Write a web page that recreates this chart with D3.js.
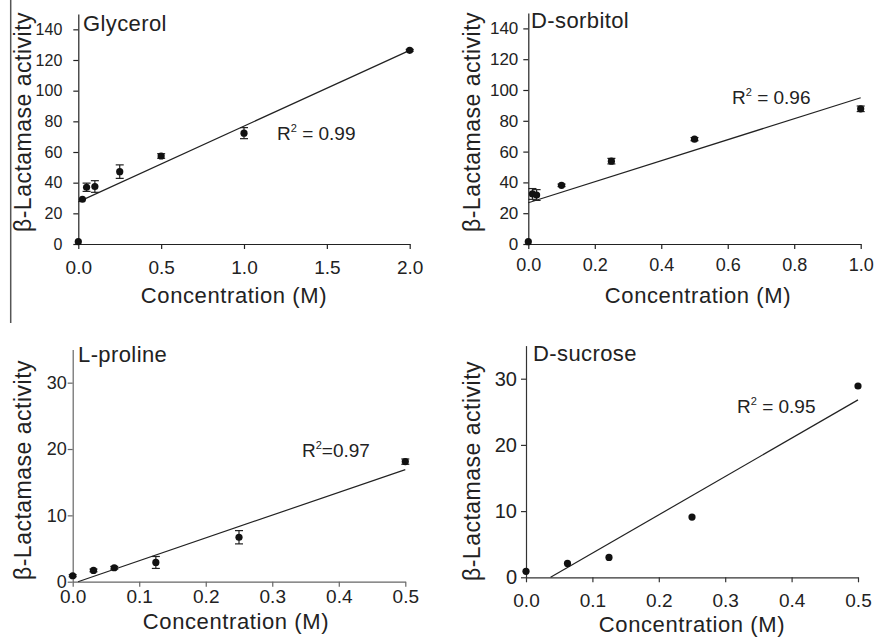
<!DOCTYPE html>
<html>
<head>
<meta charset="utf-8">
<script src="https://cdn.jsdelivr.net/npm/d3@7"></script>
<style>
  body { margin: 0; background: #fff; }
  svg text { font-family: Arial, 'Liberation Sans', sans-serif; fill: #222; }
</style>
</head>
<body>
<svg id="chart" width="876" height="638"></svg>
<script>
// Four panels of beta-lactamase activity vs osmolyte concentration
'use strict';

var glycerolX = [0, 0.025, 0.05, 0.1, 0.25, 0.5, 1.0, 2.0];
var glycerolY = [1.5, 29.2, 37, 37.5, 47.2, 57.4, 72.3, 126.3];
var glycerolErr = [0, 0, 2.7, 3.8, 4.4, 1.5, 3.6, 0.6];
var glycerolFit = [[0, 27.5], [2.0, 126.3]];

var sorbitolX = [0, 0.0125, 0.025, 0.1, 0.25, 0.5, 1.0];
var sorbitolY = [1.5, 32.5, 31.8, 38.1, 53.8, 68.1, 87.8];
var sorbitolErr = [0, 3.5, 3.5, 0.8, 1.8, 1, 1.8];
var sorbitolFit = [[0, 26.8], [1.0, 95]];

var prolineX = [0, 0.03125, 0.0625, 0.125, 0.25, 0.5];
var prolineY = [0.9, 1.7, 2.1, 2.9, 6.7, 18.1];
var prolineErr = [0.15, 0.2, 0.2, 0.9, 1.0, 0.4];
var prolineFit = [[0.008, 0], [0.5, 16.9]];

var sucroseX = [0, 0.0625, 0.125, 0.25, 0.5];
var sucroseY = [0.9, 2.1, 3.0, 9.1, 28.9];
var sucroseErr = [0, 0, 0, 0, 0];
var sucroseFit = [[0.037, 0], [0.5, 26.8]];

var glycerolXTicks = [0, 0.5, 1.0, 1.5, 2.0];
var sorbitolXTicks = [0, 0.2, 0.4, 0.6, 0.8, 1.0];
var halfMolarXTicks = [0, 0.1, 0.2, 0.3, 0.4, 0.5];
var bigYTicks = [0, 20, 40, 60, 80, 100, 120, 140];
var smallYTicks = [0, 10, 20, 30];

var panelTitles = ['Glycerol', 'D-sorbitol', 'L-proline', 'D-sucrose'];
var rSquared = ['R', 'R', 'R', 'R'];
var rSquaredText = [' = 0.99', ' = 0.96', '=0.97', ' = 0.95'];
var yTitle = '\u03b2-Lactamase activity';
var xTitle = 'Concentration (M)';

var svg = d3.select('#chart');

// thin rule on the far left of the original figure
svg.append('line')
  .attr('x1', 10.7).attr('x2', 10.7)
  .attr('y1', 0).attr('y2', 323)
  .attr('stroke', '#555')
  .attr('stroke-width', 1.5);

var panels = [
  { x: glycerolX, y: glycerolY, err: glycerolErr, fit: glycerolFit,
    xDomain: [0, 2], yDomain: [0, 150], xTicks: glycerolXTicks, yTicks: bigYTicks,
    left: 78.3, right: 409.7, bottom: 244, top: 14,
    xFont: 19, yFont: 16, xPad: 12, yPad: 11, axisColor: '#222',
    titlePos: [83, 31], rPos: [277, 140], yTitlePos: [23, 122], xTitlePos: [234, 303] },
  { x: sorbitolX, y: sorbitolY, err: sorbitolErr, fit: sorbitolFit,
    xDomain: [0, 1], yDomain: [0, 150], xTicks: sorbitolXTicks, yTicks: bigYTicks,
    left: 528.3, right: 860.7, bottom: 244, top: 13,
    xFont: 18, yFont: 17, xPad: 9, yPad: 5, axisColor: '#222',
    titlePos: [531, 28], rPos: [732, 104], yTitlePos: [472, 122], xTitlePos: [698, 303] },
  { x: prolineX, y: prolineY, err: prolineErr, fit: prolineFit,
    xDomain: [0, 0.5], yDomain: [0, 35], xTicks: halfMolarXTicks, yTicks: smallYTicks,
    left: 72.7, right: 405.3, bottom: 581.7, top: 349.5,
    xFont: 19, yFont: 18, xPad: 3, yPad: 1, axisColor: '#666',
    titlePos: [78, 362], rPos: [302, 457], yTitlePos: [23, 470], xTitlePos: [236, 629] },
  { x: sucroseX, y: sucroseY, err: sucroseErr, fit: sucroseFit,
    xDomain: [0, 0.5], yDomain: [0, 35], xTicks: halfMolarXTicks, yTicks: smallYTicks,
    left: 526, right: 858, bottom: 577.3, top: 345.6,
    xFont: 19, yFont: 20, xPad: 11, yPad: 4, axisColor: '#333',
    titlePos: [533, 361], rPos: [737, 413], yTitlePos: [472, 471], xTitlePos: [692, 632] }
];

panels.forEach(function(p, i) {
  var x = d3.scaleLinear().domain(p.xDomain).range([p.left, p.right]);
  var y = d3.scaleLinear().domain(p.yDomain).range([p.bottom, p.top]);
  var g = svg.append('g');

  var xAxis = g.append('g')
    .attr('transform', 'translate(0,' + p.bottom + ')')
    .call(d3.axisBottom(x)
      .tickValues(p.xTicks)
      .tickFormat(d3.format('.1f'))
      .tickSize(5)
      .tickSizeOuter(0)
      .tickPadding(p.xPad));

  var yAxis = g.append('g')
    .attr('transform', 'translate(' + p.left + ',0)')
    .call(d3.axisLeft(y)
      .tickValues(p.yTicks)
      .tickFormat(d3.format('d'))
      .tickSize(5)
      .tickSizeOuter(0)
      .tickPadding(p.yPad));

  xAxis.selectAll('text').attr('font-size', p.xFont + 'px').attr('fill', '#222');
  yAxis.selectAll('text').attr('font-size', p.yFont + 'px').attr('fill', '#222');
  g.selectAll('.domain, .tick line')
    .attr('stroke', p.axisColor)
    .attr('stroke-width', 1.2);

  var points = p.x.map(function(d, j) {
    return { x: d, y: p.y[j], err: p.err[j] };
  });

  // regression line
  g.append('line')
    .attr('x1', x(p.fit[0][0])).attr('y1', y(p.fit[0][1]))
    .attr('x2', x(p.fit[1][0])).attr('y2', y(p.fit[1][1]))
    .attr('stroke', '#222')
    .attr('stroke-width', 1.2);

  var bars = g.selectAll('.err')
    .data(points.filter(function(d) { return d.err > 0; }))
    .enter()
    .append('g')
    .attr('class', 'err')
    .attr('stroke', '#222')
    .attr('stroke-width', 1.2);

  bars.append('line')
    .attr('x1', function(d) { return x(d.x); })
    .attr('x2', function(d) { return x(d.x); })
    .attr('y1', function(d) { return y(d.y - d.err); })
    .attr('y2', function(d) { return y(d.y + d.err); });

  [-1, 1].forEach(function(s) {
    bars.append('line')
      .attr('x1', function(d) { return x(d.x) - 4; })
      .attr('x2', function(d) { return x(d.x) + 4; })
      .attr('y1', function(d) { return y(d.y + s * d.err); })
      .attr('y2', function(d) { return y(d.y + s * d.err); });
  });

  g.selectAll('circle')
    .data(points)
    .enter()
    .append('circle')
    .attr('cx', function(d) { return x(d.x); })
    .attr('cy', function(d) { return y(d.y); })
    .attr('r', 3.6)
    .attr('fill', '#111');

  g.append('text')
    .attr('x', p.titlePos[0])
    .attr('y', p.titlePos[1])
    .attr('font-size', '22px')
    .attr('letter-spacing', '0.4px')
    .text(panelTitles[i]);

  var r = g.append('text')
    .attr('x', p.rPos[0])
    .attr('y', p.rPos[1])
    .attr('font-size', '19px');
  r.append('tspan').text(rSquared[i]);
  r.append('tspan').attr('dy', -8).attr('font-size', '11px').text('2');
  r.append('tspan').attr('dy', 8).text(rSquaredText[i]);

  g.append('text')
    .attr('transform', 'translate(' + p.yTitlePos[0] + ',' + p.yTitlePos[1] + ') rotate(-90)')
    .attr('text-anchor', 'middle')
    .attr('dy', '0.35em')
    .attr('font-size', '23px')
    .attr('letter-spacing', '0.5px')
    .text(yTitle);

  g.append('text')
    .attr('x', p.xTitlePos[0])
    .attr('y', p.xTitlePos[1])
    .attr('text-anchor', 'middle')
    .attr('font-size', '22px')
    .attr('letter-spacing', '0.6px')
    .text(xTitle);
});
</script>
</body>
</html>
